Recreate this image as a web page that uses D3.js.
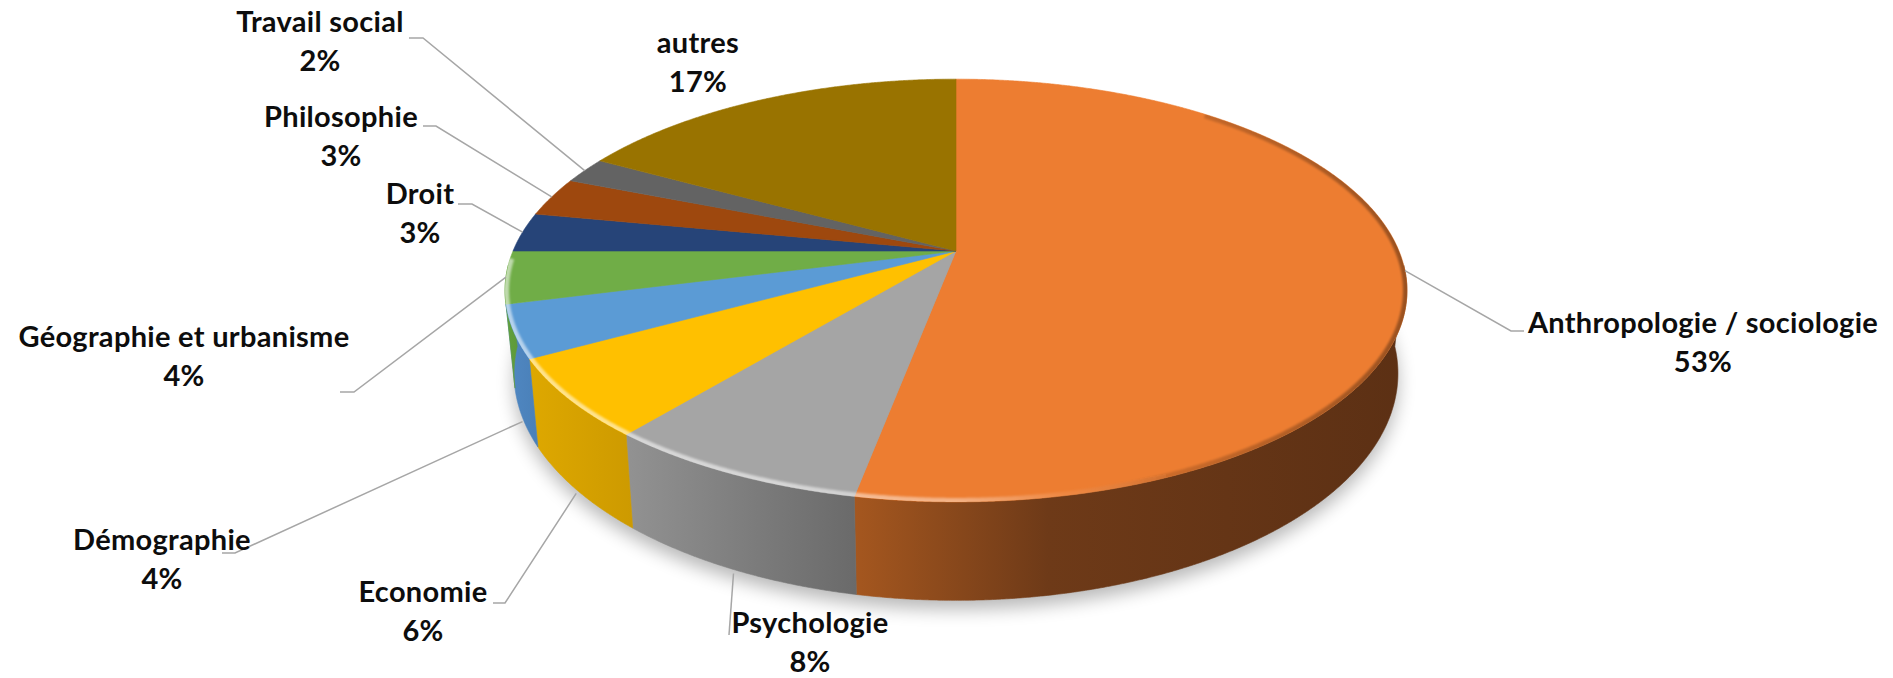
<!DOCTYPE html>
<html><head><meta charset="utf-8">
<script src="https://cdn.jsdelivr.net/npm/d3@7"></script>
<style>
body{margin:0;background:#fff}
svg text{font-family:Lato,'Open Sans',sans-serif;font-weight:700;font-size:29px;letter-spacing:0.3px;fill:#0d0d0d}
</style>
</head><body>
<svg id="chart" width="1893" height="678"></svg>
<script>
// ---------- data ----------
const categories = ["Anthropologie / sociologie","Psychologie","Economie","Démographie","Géographie et urbanisme","Droit","Philosophie","Travail social","autres"];
const values = [53, 8, 6, 4, 4, 3, 3, 2, 17];

// ---------- styles ----------
const topColors = ["#ED7D31","#A5A5A5","#FFC000","#5B9BD5","#70AD47","#264478","#9E480E","#636363","#997300"];
const sideStops = [
  [[0,"#A5571F"],[0.35,"#6E3A18"],[1,"#5C3014"]],
  [[0,"#929292"],[1,"#6A6A6A"]],
  [[0,"#DEA800"],[1,"#CD9A00"]],
  [[0,"#5088C3"],[1,"#4A80B8"]],
  [[0,"#62A13D"],[1,"#5E9A3A"]],
  [[0,"#1F3A66"],[1,"#1F3A66"]],
  [[0,"#863C0B"],[1,"#863C0B"]],
  [[0,"#545454"],[1,"#545454"]],
  [[0,"#826200"],[1,"#826200"]]
];
// label layout: centre x, first baseline; leader: elbow, end (null = none)
const labelX  = [1703, 810, 423, 162, 184, 420, 341, 320, 698];
const labelY  = [333, 633, 602, 550, 347, 204, 127, 32, 53];
const elbows  = [[1511,331],[729,635],[505,603],[235,553],[354,392],[472,204],[436,126],[423,38],null];
const ends    = [[1524,331],null,[493,603],[222,553],[340,392],[458,204],[423,126],[409,38],null];
const lineGap = 38.5;

// ---------- geometry (perspective 3D pie) ----------
const G = {cx:956, cy:251, A:443, B:204, k:0.187, H:80, sb:0.98};
function proj(theta, bottom){
  const x = Math.sin(theta), z = -Math.cos(theta);
  const s = 1/(1 - G.k*z);
  if(!bottom) return [G.cx + G.A*x*s, G.cy + G.B*z*s];
  return [G.cx + G.A*G.sb*x*s, G.cy + G.B*z*s + G.H*s];
}
const rad = d => d*Math.PI/180;
function arcPts(a0, a1, bottom){
  const n = Math.max(2, Math.ceil(Math.abs(a1-a0)/rad(0.25)));
  const pts = [];
  for(let i=0;i<=n;i++) pts.push(proj(a0 + (a1-a0)*i/n, bottom));
  return pts;
}
const line = d3.line();

const svg = d3.select("#chart");
const defs = svg.append("defs");

const data = categories.map((c,i)=>({name:c, value:values[i], i}));
const total = d3.sum(values);
const pct = d3.format(".0%");
const arcs = d3.pie().sort(null).value(d=>d.value)(data);

// shadow
const sh = defs.append("filter").attr("id","shadow").attr("x","-20%").attr("y","-20%").attr("width","140%").attr("height","160%");
sh.append("feGaussianBlur").attr("stdDeviation",9);
const blur = defs.append("filter").attr("id","soft");
blur.append("feGaussianBlur").attr("stdDeviation",1.3);

const fullBottom = arcPts(0, 2*Math.PI, true);
svg.append("path").attr("d", line(fullBottom.map(p=>[p[0], p[1]+9]))+"Z")
  .attr("fill","#000").attr("opacity",0.28).attr("filter","url(#shadow)");

// sides
const vis0 = rad(94), vis1 = rad(266);
const gSide = svg.append("g");
arcs.forEach(a=>{
  const lo = Math.max(a.startAngle, vis0), hi = Math.min(a.endAngle, vis1);
  if(hi <= lo) return;
  const top = arcPts(lo, hi, false), bot = arcPts(hi, lo, true);
  const pts = top.concat(bot);
  const xs = pts.map(p=>p[0]);
  const gid = "side"+a.data.i;
  const gr = defs.append("linearGradient").attr("id",gid).attr("gradientUnits","userSpaceOnUse")
    .attr("x1",d3.min(xs)).attr("x2",d3.max(xs)).attr("y1",0).attr("y2",0);
  sideStops[a.data.i].forEach(s=>gr.append("stop").attr("offset",s[0]).attr("stop-color",s[1]));
  gSide.append("path").attr("d", line(pts)+"Z").attr("fill","url(#"+gid+")")
    .attr("stroke","url(#"+gid+")").attr("stroke-width",0.6);
});

// tops
const gTop = svg.append("g");
arcs.forEach(a=>{
  const pts = [[G.cx,G.cy]].concat(arcPts(a.startAngle, a.endAngle, false));
  gTop.append("path").attr("d", line(pts)+"Z").attr("fill", topColors[a.data.i])
    .attr("stroke", topColors[a.data.i]).attr("stroke-width",0.6).attr("stroke-linejoin","round");
});

// bevel rim highlight (clipped to top face)
const fullTop = arcPts(0, 2*Math.PI, false);
defs.append("clipPath").attr("id","topClip").append("path").attr("d", line(fullTop)+"Z");
const rg = defs.append("linearGradient").attr("id","rimGrad").attr("gradientUnits","userSpaceOnUse")
  .attr("x1",505).attr("x2",1407).attr("y1",0).attr("y2",0);
[[0,"#fff",0.55],[0.3,"#fff",0.55],[0.5,"#fff",0.4],[0.62,"#fff",0.08],[0.75,"#000",0.15],[1,"#000",0.35]]
  .forEach(s=>rg.append("stop").attr("offset",s[0]).attr("stop-color",s[1]).attr("stop-opacity",s[2]));
svg.append("g").attr("clip-path","url(#topClip)")
  .append("path").attr("d", line(arcPts(rad(40), rad(268), false)))
  .attr("fill","none").attr("stroke","url(#rimGrad)").attr("stroke-width",8).attr("filter","url(#soft)");

// leader lines
const gLead = svg.append("g");
arcs.forEach(a=>{
  const i = a.data.i;
  if(!elbows[i]) return;
  const mid = (a.startAngle + a.endAngle)/2;
  const onSide = mid > rad(100.8) && mid < rad(259.2);
  let p = proj(mid, onSide);
  if(onSide) p = [p[0], p[1]+4];
  const pts = [p, elbows[i]];
  if(ends[i]) pts.push(ends[i]);
  gLead.append("path").attr("d", line(pts)).attr("fill","none")
    .attr("stroke","#A6A6A6").attr("stroke-width",1.5);
});

// labels
const gLab = svg.append("g");
arcs.forEach(a=>{
  const i = a.data.i;
  const t = gLab.append("text").attr("text-anchor","middle");
  t.append("tspan").attr("x", labelX[i]).attr("y", labelY[i]).text(a.data.name);
  t.append("tspan").attr("x", labelX[i]).attr("y", labelY[i]+lineGap).text(pct(a.data.value/total));
});
</script>
</body></html>
